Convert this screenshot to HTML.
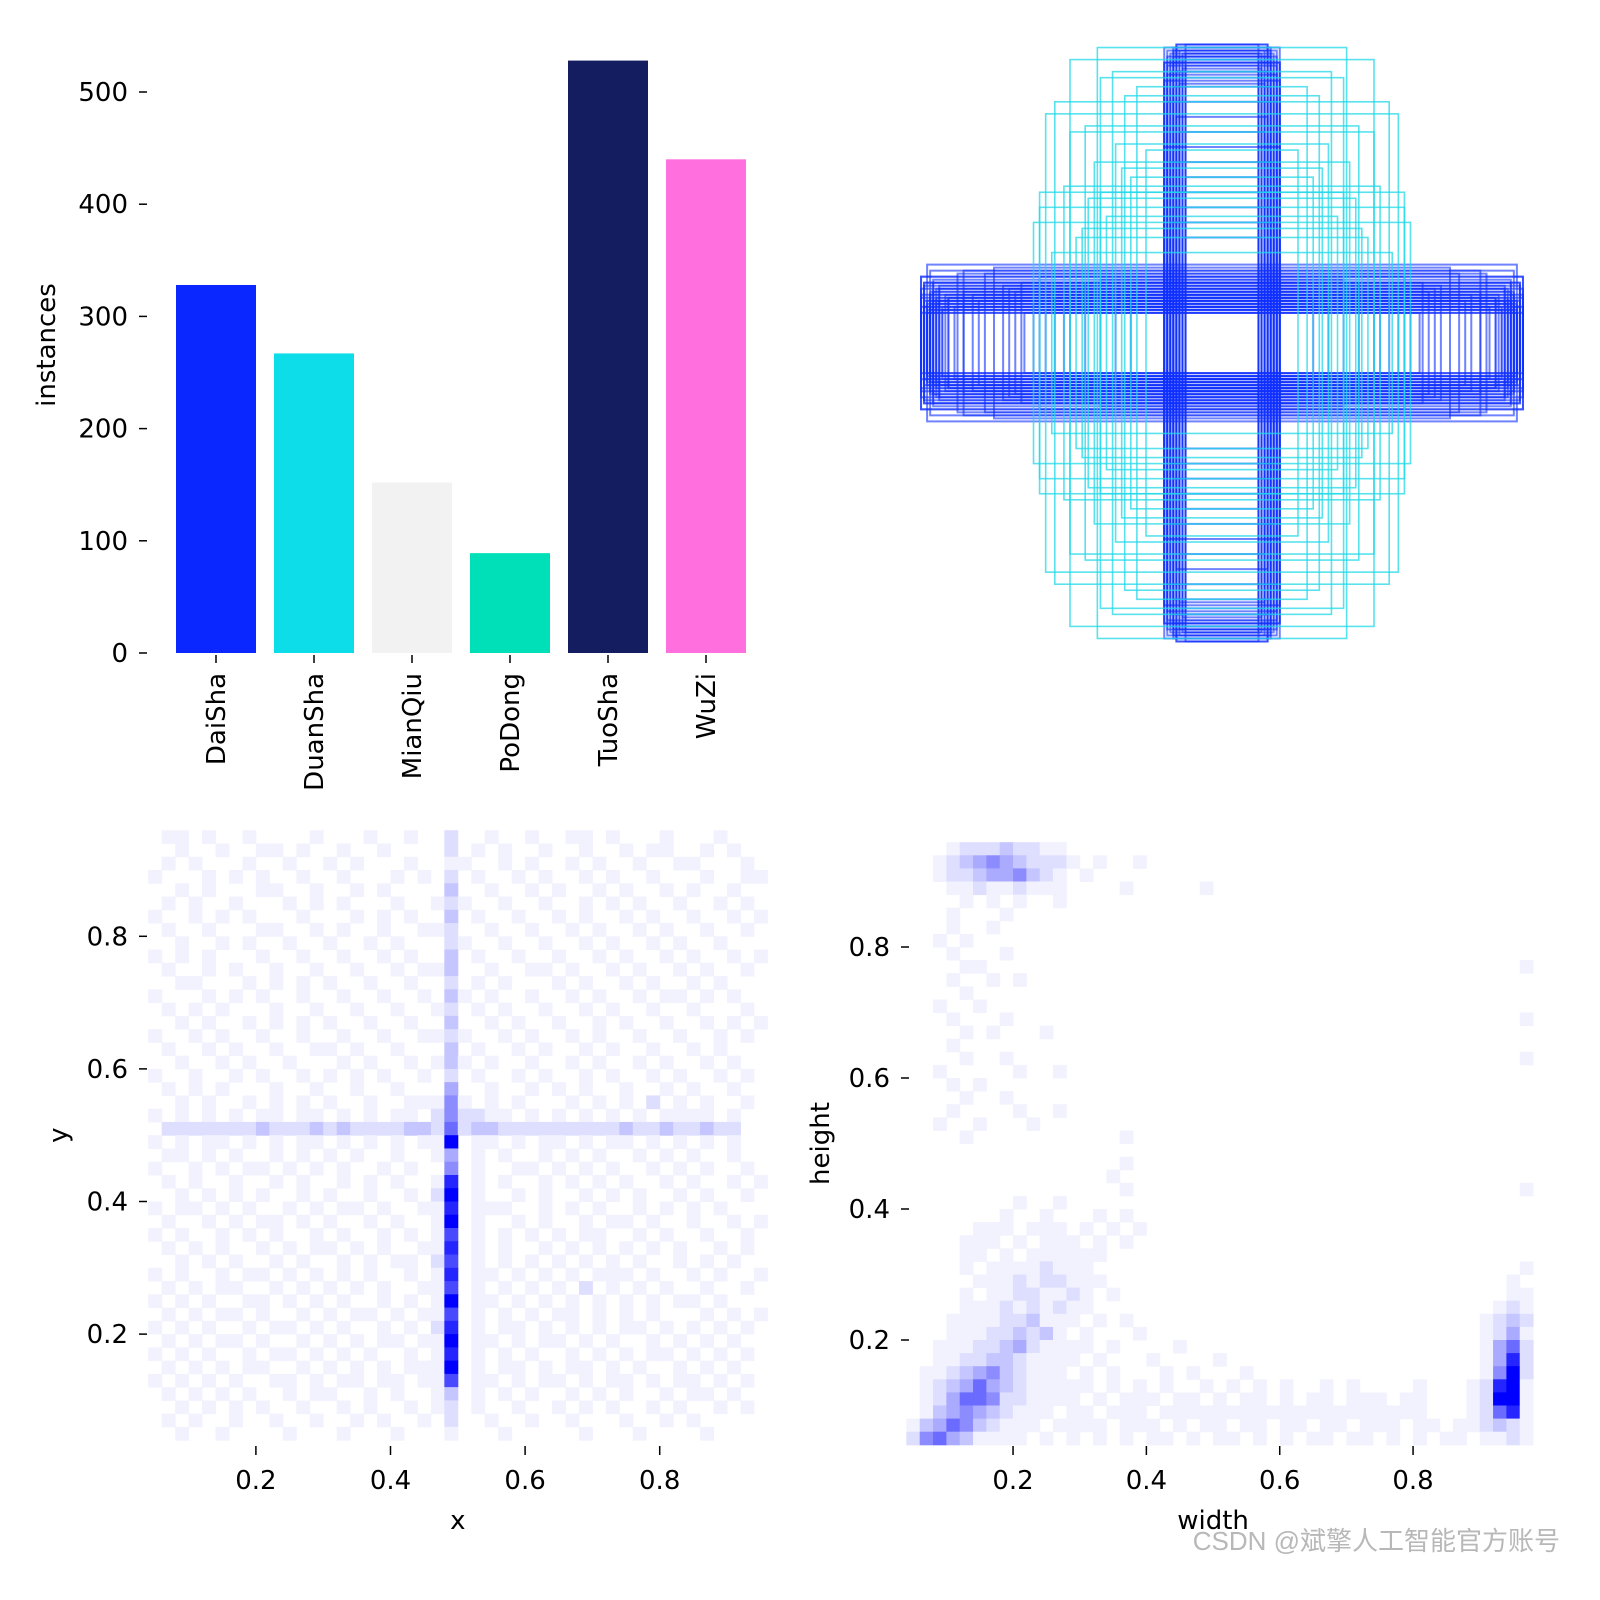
<!DOCTYPE html>
<html><head><meta charset="utf-8"><style>
html,body{margin:0;padding:0;background:#fff}
svg{display:block}
text{font-family:"DejaVu Sans","Liberation Sans",sans-serif;fill:#000}
</style></head><body>
<svg id="fig" width="1600" height="1600" viewBox="0 0 1600 1600" xmlns="http://www.w3.org/2000/svg">
<g id="bar"></g>
<g id="boxes"></g>
<g id="xy"></g>
<g id="wh"></g>
<text x="1560" y="1550" text-anchor="end" font-size="26" style="fill:#b8b8b8;font-family:'Liberation Sans','Noto Sans CJK SC',sans-serif">CSDN @斌擎人工智能官方账号</text>
</svg>
<script>
const categories = ["DaiSha","DuanSha","MianQiu","PoDong","TuoSha","WuZi"];
const counts = [328, 267, 152, 89, 528, 440];
const barColors = ["#0a27ff","#0cdde8","#f2f2f2","#00e0b8","#131d5f","#ff6fdd"];
const yTicks = [0,100,200,300,400,500];

// boxes: widths, heights (normalized), class index (0 = blue, 1 = cyan)
const boxW = [
  0.99,0.98,0.97,0.96,0.95,0.99,0.94,0.93,0.97,0.92,0.90,0.98,0.96,0.88,0.85,0.99,0.95,0.93,0.91,0.97,
  0.99,0.96,0.94,0.98,0.87,0.92,0.99,0.95,0.97,0.93,0.98,0.96,0.99,0.94,0.97,0.95,0.98,0.90,0.99,0.96,
  0.35,0.45,0.55,0.60,0.65,0.70,0.75,0.80,0.50,0.40,0.62,0.72,0.85,0.58,0.68,0.78,0.30,0.52,0.66,0.82,
  0.12,0.14,0.16,0.18,0.19,0.13,0.15,0.17,0.19,0.14,0.16,0.12,0.18,0.15,0.13,0.17,0.19,0.14,0.16,0.18,
  0.15,0.13,0.18,0.16,0.14,0.17,0.12,0.19,0.15,0.16,
  0.13,0.15,0.17,0.14,0.16,0.18,0.12,0.19,0.15,0.17,
  0.41,0.50,0.60,0.45,0.30,0.55,0.40,0.62,0.35,0.52,0.58,0.44,0.48,0.38,0.33,0.25,0.28,0.36,0.42,0.56,
  0.50,0.32,0.46,0.60,0.40];
const boxH = [
  0.12,0.14,0.10,0.16,0.20,0.22,0.13,0.18,0.26,0.11,0.15,0.19,0.24,0.12,0.17,0.10,0.21,0.14,0.16,0.13,
  0.18,0.11,0.15,0.20,0.23,0.12,0.15,0.17,0.14,0.19,0.12,0.13,0.16,0.18,0.11,0.14,0.20,0.15,0.22,0.17,
  0.12,0.20,0.15,0.22,0.10,0.18,0.25,0.14,0.16,0.21,0.13,0.19,0.24,0.11,0.17,0.23,0.15,0.12,0.20,0.16,
  0.99,0.97,0.98,0.95,0.93,0.96,0.90,0.94,0.98,0.88,0.85,0.92,0.97,0.99,0.91,0.96,0.87,0.95,0.93,0.89,
  0.98,0.94,0.92,0.97,0.86,0.90,0.96,0.93,0.99,0.95,
  0.35,0.50,0.60,0.70,0.45,0.80,0.55,0.65,0.75,0.40,
  0.98,0.94,0.45,0.72,0.55,0.80,0.50,0.40,0.66,0.52,0.76,0.48,0.35,0.42,0.58,0.64,0.85,0.90,0.60,0.30,
  0.70,0.82,0.38,0.50,0.88];
const boxCls = [
  0,0,0,0,0,0,0,0,0,0,0,0,0,0,0,0,0,0,0,0,0,0,0,0,0,0,0,0,0,0,0,0,0,0,0,0,0,0,0,0,
  0,0,0,0,0,0,0,0,0,0,0,0,0,0,0,0,0,0,0,0,
  0,0,0,0,0,0,0,0,0,0,0,0,0,0,0,0,0,0,0,0,0,0,0,0,0,0,0,0,0,0,
  0,0,0,0,0,0,0,0,0,0,
  1,1,1,1,1,1,1,1,1,1,1,1,1,1,1,1,1,1,1,1,1,1,1,1,1];

// x-y histogram: rows from y=0.96 (top) down, cols from x=0.04, bin 0.02, level 0-9
const xyGrid = [
"0110100100 0010001001 0020010010 0110100010 001000",
"0010010011 0100100100 0020101001 0010010110 010100",
"0101000100 1001010001 0011001010 0101001001 100010",
"1000101010 0100100010 1020100101 0010100100 010011",
"0010100011 0010010100 0030010010 1001010010 100100",
"0101001000 1010100010 0121001001 0010101001 001010",
"1001010100 0100010101 0030100100 1010010100 100101",
"0100100011 0010100100 1120010010 0101001010 010010",
"0010010100 1001001010 0021001001 0010100101 001000",
"1010100010 0100100101 0030100100 1001010010 100101",
"0100101001 0010010010 1130010011 0100101001 010010",
"0011000101 0101001001 0020101000 1010010100 101000",
"1000101010 0100100100 1031010010 0101001011 010100",
"0101010001 0010010010 0120101001 0010100100 100010",
"0010100101 0101001001 0030010100 1001010010 010101",
"1001010010 0100100100 1121001010 0101001001 001010",
"0100101001 0011010010 0030100101 0010100100 101000",
"0010010100 1000101001 0131010010 0101001010 010100",
"1001001010 0101010100 1020100101 0010100101 001010",
"0101010001 0010010010 0040010010 1010010010 100100",
"0010100101 0101001001 1151010100 0101010201 010010",
"1010101011 0110101011 0252211010 1010101011 110100",
"0222222232 2232322223 3262332222 2222232232 232200",
"1010110101 0110101010 1190110101 1010110101 010100",
"0110101001 0101010010 0140101001 0101001010 100100",
"1001010110 1010100101 0050100110 1010100101 010010",
"0101001001 0100101010 0180101001 0101010010 100101",
"0010101010 0101001001 0290100101 0010101001 010010",
"1011010100 1010110100 1180111001 0101001010 101000",
"0100101011 0101001010 0190100101 0010110100 100101",
"1010010101 0010100101 0170101010 1011001010 010010",
"0101010010 1011010100 1180101001 0101010101 001010",
"0010101001 0100101011 0270101010 1010101001 010100",
"1010010110 1010101001 0180110101 0101110100 101001",
"0101011001 0101010100 1170101010 1020101010 010010",
"1010100110 1010100101 0190110101 0101010101 101000",
"0101011010 0101011010 1170101010 1101010100 010101",
"1010100101 1010100101 0280101101 0101011010 101010",
"0101011010 0101010110 1190110101 1010100101 010100",
"1010100101 1010101001 0180101010 0101010110 101010",
"0101010110 0101010101 1190101101 0110101001 010100",
"1010101001 1010110110 1170110101 1010110101 101010",
"0101010100 1011001010 0130101010 0101010010 110100",
"0010101010 0100101001 0120100100 1010100101 001010",
"0101001001 0010010100 1020010010 0100010010 100000",
"0010010000 1000100010 0010001000 0010001000 010000"];

// width-height histogram: rows from h=0.98 (top) down, cols from w=0.04, bin 0.02
const whGrid = [
"0000000000 0000000000 0000000000 0000000000 0000000",
"0001222322 1100000000 0000000000 0000000000 0000000",
"0012345432 2210100100 0000000000 0000000000 0000000",
"0012234453 2101000000 0000000000 0000000000 0000000",
"0001121121 1100001000 0010000000 0000000000 0000000",
"0000101010 0100000000 0000000000 0000000000 0000000",
"0001000100 0000000000 0000000000 0000000000 0000000",
"0001001000 0000000000 0000000000 0000000000 0000000",
"0010100000 0000000000 0000000000 0000000000 0000000",
"0001000100 0000000000 0000000000 0000000000 0000000",
"0000110000 0000000000 0000000000 0000000000 0000001",
"0001001010 0000000000 0000000000 0000000000 0000000",
"0000100000 0000000000 0000000000 0000000000 0000000",
"0010010000 0000000000 0000000000 0000000000 0000000",
"0001000100 0000000000 0000000000 0000000000 0000001",
"0000101000 1000000000 0000000000 0000000000 0000000",
"0001000000 0000000000 0000000000 0000000000 0000000",
"0000100100 0000000000 0000000000 0000000000 0000001",
"0010000010 0100000000 0000000000 0000000000 0000000",
"0001010000 0000000000 0000000000 0000000000 0000000",
"0000100100 0000000000 0000000000 0000000000 0000000",
"0001000010 0100000000 0000000000 0000000000 0000000",
"0010010001 0000000000 0000000000 0000000000 0000000",
"0000100000 0000001000 0000000000 0000000000 0000000",
"0000000000 0000000000 0000000000 0000000000 0000000",
"0000000000 0000001000 0000000000 0000000000 0000000",
"0000000000 0000010000 0000000000 0000000000 0000000",
"0000000000 0000001000 0000000000 0000000000 0000001",
"0000000010 0100000000 0000000000 0000000000 0000000",
"0000000100 1000101000 0000000000 0000000000 0000000",
"0000011101 1101010100 0000000000 0000000000 0000000",
"0000111010 1110101000 0000000000 0000000000 0000000",
"0000110101 1111100000 0000000000 0000000000 0000000",
"0000101111 2111000000 0000000000 0000000000 0000001",
"0000011121 2211100000 0000000000 0000000000 0000010",
"0000101122 1121010000 0000000000 0000000000 0000011",
"0000111212 1211000000 0000000000 0000000000 0000121",
"0001111223 1110101000 0000000000 0000000000 0001232",
"0001112232 3101000100 0000000000 0000000000 0001241",
"0011122342 1111010000 1000000000 0000000000 0001462",
"0011223321 1110100010 0001000000 0000000000 0001482",
"0112345321 1101010001 0100010000 0000000000 0001592",
"0123464321 1111010101 0010101010 0101000010 0012891",
"0124665221 1110101110 1101011010 1101110110 0012991",
"0134543211 1011011101 1111111111 1111111110 0012681",
"1346532111 0111101110 1011011011 0110111011 0112321",
"2564311110 1010101011 0101101010 1101101010 1101121"];
const xyTicksX = [0.2,0.4,0.6,0.8];
const xyTicksY = [0.2,0.4,0.6,0.8];
const whTicksX = [0.2,0.4,0.6,0.8];
const whTicksY = [0.2,0.4,0.6,0.8];

const NS = "http://www.w3.org/2000/svg";
function mk(parent, tag, attrs, txt){
  const e = document.createElementNS(NS, tag);
  for (const k in attrs) e.setAttribute(k, attrs[k]);
  if (txt !== undefined) e.textContent = txt;
  parent.appendChild(e);
  return e;
}
function fmt(v){ return v.toFixed(1); }

// ---- bar chart
(function(){
  const g = document.getElementById('bar');
  const y0 = 653, pxPer = 1.122;
  const yS = v => y0 - v * pxPer;
  const xC = i => 216 + i * 98;
  const bw = 80;
  yTicks.forEach(t => {
    const l = mk(g,'line',{x1:139,x2:147,y1:yS(t),y2:yS(t),stroke:'#000','stroke-width':1.5});
    
    
    const tx = mk(g,'text',{x:128,y:yS(t)+9,'text-anchor':'end','font-size':26}, String(t));
    
    
  });
  categories.forEach((c,i) => {
    const r = mk(g,'rect',{x:xC(i)-bw/2,y:yS(counts[i]),width:bw,height:counts[i]*pxPer,fill:barColors[i]});
    
    
    const l = mk(g,'line',{x1:xC(i),x2:xC(i),y1:655,y2:663,stroke:'#000','stroke-width':1.5});
    
    
    const t = mk(g,'text',{x:0,y:0,'text-anchor':'end','font-size':26,transform:`translate(${xC(i)+9},673) rotate(-90)`}, c);
    
    
  });
  const yl = mk(g,'text',{x:0,y:0,'text-anchor':'middle','font-size':26,transform:'translate(55,345) rotate(-90)'},'instances');
  
  
})();

// ---- boxes
(function(){
  const g = document.getElementById('boxes');
  const cx = 1222, cy = 343, sx = 608, sy = 603;
  const cols = ['#1030ff','#20d8e8'];
  boxW.forEach((w,i) => {
    const h = boxH[i];
    const c = boxCls[i];
    const r = mk(g,'rect',{x:cx - w*sx/2, y:cy - h*sy/2, width:w*sx, height:h*sy, fill:'none', stroke:cols[c], 'stroke-width':c===0?2:1.6, 'stroke-opacity':c===0?0.6:0.75});
    
    
  });
})();

function level(ch){
  const L = parseInt(ch,10) || 0;
  const t = Math.pow(L/9, 1.35);
  const v = Math.round(255*(1-t));
  return [L, `rgb(${v},${v},255)`];
}

function heat(gid, grid, xZero, xPer, yZero, yPer, xStart, yTop, ticksX, ticksY, xTitle, yTitle, yTitleX, yTickX){
  const g = document.getElementById(gid);
  const xS = v => xZero + v*xPer;
  const yS = v => yZero - v*yPer;
  grid.forEach((row, r) => {
    const s = row.replace(/ /g,'');
    for (let c = 0; c < s.length; c++){
      const [L, col] = level(s[c]);
      if (!L) continue;
      const x0 = xS(xStart + 0.02*c), x1 = xS(xStart + 0.02*(c+1));
      const yt = yS(yTop - 0.02*r), yb = yS(yTop - 0.02*(r+1));
      const e = mk(g,'rect',{x:x0, y:yt, width:x1-x0+0.5, height:yb-yt+0.5, fill:col});
      
      
    }
  });
  ticksX.forEach(t => {
    const l = mk(g,'line',{x1:xS(t),x2:xS(t),y1:1446,y2:1455,stroke:'#000','stroke-width':1.5});
    
    
    const tx = mk(g,'text',{x:xS(t),y:1489,'text-anchor':'middle','font-size':26}, fmt(t));
    
    
  });
  ticksY.forEach(t => {
    const l = mk(g,'line',{x1:yTickX,x2:yTickX+8,y1:yS(t),y2:yS(t),stroke:'#000','stroke-width':1.5});
    
    
    const tx = mk(g,'text',{x:yTickX-11,y:yS(t)+9,'text-anchor':'end','font-size':26}, fmt(t));
    
    
  });
  const xt = mk(g,'text',{x:xS(0.5),y:1529,'text-anchor':'middle','font-size':26}, xTitle);
  
  
  const yt = mk(g,'text',{x:0,y:0,'text-anchor':'middle','font-size':26,transform:`translate(${yTitleX},${yS(0.5)}) rotate(-90)`}, yTitle);
  
  
}

heat('xy', xyGrid, 121.3, 673, 1466.7, 663, 0.04, 0.96, xyTicksX, xyTicksY, 'x', 'y', 67, 139);
heat('wh', whGrid, 879.7, 666.7, 1471, 655, 0.04, 0.98, whTicksX, whTicksY, 'width', 'height', 829, 901);
</script>
</body></html>
